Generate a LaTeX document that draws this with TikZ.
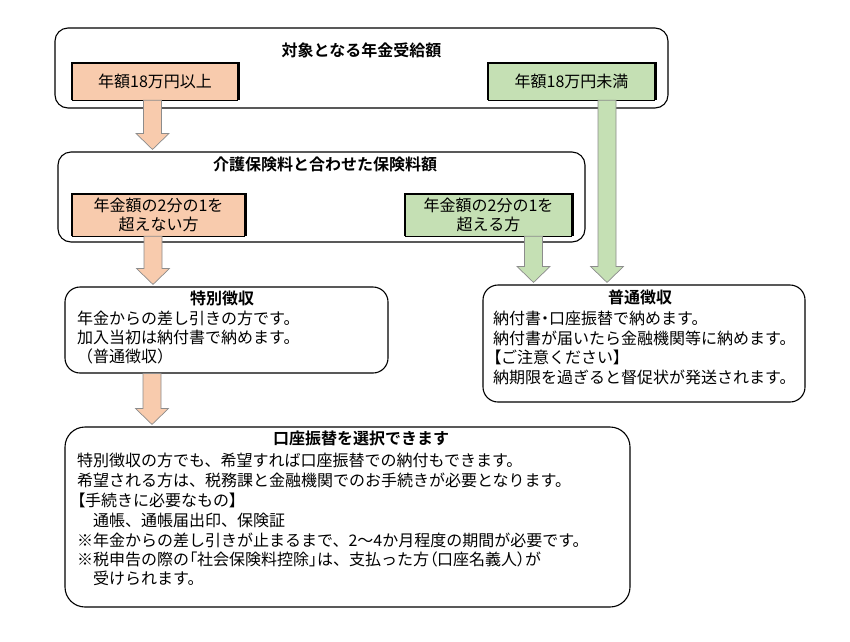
\documentclass[tikz,border=0pt]{standalone}
\usepackage{fontspec}
\setmainfont{Noto Sans CJK JP}[BoldFont={Noto Sans CJK JP Bold}]
\usetikzlibrary{calc}
\definecolor{orfill}{HTML}{F8CBAD}
\definecolor{grfill}{HTML}{C5E0B4}
\definecolor{arrline}{HTML}{8C8C8C}
\newcommand{\pp}[1]{{\addfontfeature{RawFeature=+palt}#1}}
\tikzset{
  roundbox/.style={draw=black, line width=1.1pt, fill=white, inner sep=0pt},
  colbox/.style={inner sep=0pt, align=center, font=\fontsize{16pt}{19pt}\selectfont},
  ttl/.style={inner sep=0pt, font=\fontsize{16pt}{19pt}\selectfont\bfseries},
  bodyline/.style={inner sep=0pt, anchor=base west, font=\fontsize{16pt}{19pt}\selectfont},
  orarrow/.style={draw=arrline, line width=0.7pt, fill=orfill},
  grarrow/.style={draw=arrline, line width=0.7pt, fill=grfill}
}
% block arrow: style, x centre, source node, target node
\newcommand{\blockarr}[4]{%
  \path let \p1=(#3.south), \p2=(#4.north) in
    [#1] ({(#2-9)*1pt},\y1) -- ({(#2+9)*1pt},\y1) -- ({(#2+9)*1pt},{\y2+18pt})
      -- ({(#2+16.5)*1pt},{\y2+18pt}) -- ({#2*1pt},{\y2+2pt}) -- ({(#2-16.5)*1pt},{\y2+18pt})
      -- ({(#2-9)*1pt},{\y2+18pt}) -- cycle;
}
\newcommand{\colframe}[1]{%
  \draw[line width=0.6pt] (#1.south west) -- (#1.south east);
  \draw[line width=2.6pt, line join=miter] (#1.south west) -- (#1.north west) -- (#1.north east) -- (#1.south east);
}
\begin{document}
\begin{tikzpicture}[x=1pt,y=-1pt]
\useasboundingbox[fill=white] (0,0) rectangle (850,641);

% boxes
\node[roundbox, rounded corners=13pt, minimum width=613pt, minimum height=80pt] (R1) at (361.5,68) {};
\node[ttl] (T1) at (361.5,50) {対象となる年金受給額};
\node[colbox, fill=orfill, minimum width=166pt, minimum height=37pt] (O1) at (155,81.5) {年額18万円以上};
\node[colbox, fill=grfill, minimum width=167pt, minimum height=37pt] (G1) at (571.5,81.5) {年額18万円未満};
\colframe{O1}
\colframe{G1}

\node[roundbox, rounded corners=13pt, minimum width=527pt, minimum height=90pt] (R2) at (321.5,197) {};
\node[ttl] (T2) at (325,164.5) {介護保険料と合わせた保険料額};
\node[colbox, fill=orfill, minimum width=173pt, minimum height=42pt] (O2) at (158.5,215) {年金額の2分の1を\\超えない方};
\node[colbox, fill=grfill, minimum width=167pt, minimum height=42pt] (G2) at (488.5,215) {年金額の2分の1を\\超える方};
\colframe{O2}
\colframe{G2}

\node[roundbox, rounded corners=15pt, minimum width=323pt, minimum height=86pt] (B1) at (226.5,330) {};
\node[ttl] (T3) at (222,298) {特別徴収};
\node[bodyline] (B1a) at (77,324) {年金からの差し引きの方です。};
\node[bodyline] (B1b) at (77,343) {加入当初は納付書で納めます。};
\node[bodyline] (B1c) at (77,362) {（普通徴収）};

\node[roundbox, rounded corners=15pt, minimum width=322pt, minimum height=117pt] (B2) at (644,343.5) {};
\node[ttl] (T4) at (640,297.5) {普通徴収};
\node[bodyline] (B2a) at (493,324) {納付書\pp{・}口座振替で納めます。};
\node[bodyline] (B2b) at (493,344) {納付書が届いたら金融機関等に納めます。};
\node[bodyline] (B2c) at (493,363) {\pp{【}ご注意ください\pp{】}};
\node[bodyline] (B2d) at (493,383) {納期限を過ぎると督促状が発送されます。};

\node[roundbox, rounded corners=20pt, minimum width=565pt, minimum height=180pt] (B3) at (347.5,517) {};
\node[ttl] (T5) at (361,438.5) {口座振替を選択できます};
\node[bodyline] (B3a) at (77,466) {特別徴収の方でも、希望すれば口座振替での納付もできます。};
\node[bodyline] (B3b) at (77,486) {希望される方は、税務課と金融機関でのお手続きが必要となります。};
\node[bodyline] (B3c) at (77,506) {\pp{【}手続きに必要なもの\pp{】}};
\node[bodyline] (B3d) at (77,526) {　通帳、通帳届出印、保険証};
\node[bodyline] (B3e) at (77,546) {※年金からの差し引きが止まるまで、2〜4か月程度の期間が必要です。};
\node[bodyline] (B3f) at (77,565) {※税申告の際の\pp{「}社会保険料控除\pp{」}は、支払った方\pp{（}口座名義人\pp{）}が};
\node[bodyline] (B3g) at (77,584) {　受けられます。};

% block arrows
\blockarr{orarrow}{152.5}{O1}{R2}
\blockarr{orarrow}{153}{O2}{B1}
\blockarr{grarrow}{533.5}{G2}{B2}
\blockarr{grarrow}{607}{G1}{B2}
\blockarr{orarrow}{152}{B1}{B3}
\end{tikzpicture}
\end{document}
